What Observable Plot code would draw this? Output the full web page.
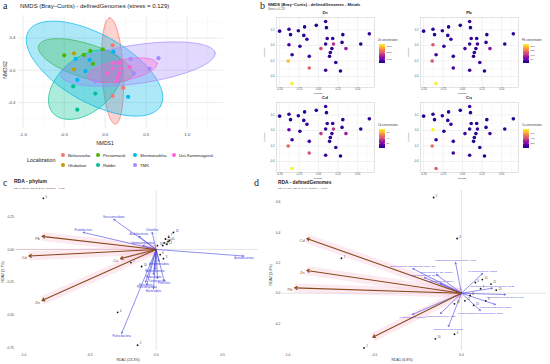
<!DOCTYPE html>
<html><head><meta charset="utf-8">
<script src="https://cdn.jsdelivr.net/npm/d3@7"></script>
<script src="https://cdn.jsdelivr.net/npm/@observablehq/plot@0.6"></script>
<style>
html,body{margin:0;padding:0;background:#fff;}
#root{position:relative;width:550px;height:364px;overflow:hidden;background:#fff;}
#root svg{display:block;overflow:visible;}
.box{position:absolute;}
</style></head><body><div id="root"></div>
<script>
// ================= DATA =================
// Panel a / b : NMDS site scores
const localities = ["Belousovka","Glubokoe","Pervomaisk","Ridder","Shemonaikha","TMK","Ust-Kamenogorsk"];
const localityColors = ["#F8766D","#C49A00","#53B400","#00C094","#00B6EB","#A58AFF","#FB61D7"];
const nmds1 = [-0.50,-0.38,-0.36,-0.26,-0.18,-0.19,-0.15,-0.03,0.09,0.10,-0.38,-0.24,-0.34,-0.39,-0.12,-0.12,-0.34,0.03,0.09,0.11,0.18,0.19,0.17,0.15,0.14,0.22,0.09,0.28,0.31,0.30,0.35,0.54,0.65];
const nmds2 = [0.185,0.21,0.14,0.19,0.24,0.13,0.08,0.26,0.31,0.23,0.01,-0.01,-0.12,-0.20,-0.14,-0.29,-0.49,-0.04,0.02,0.09,0.09,0.02,-0.04,-0.09,-0.14,-0.22,-0.32,-0.33,0.14,0.04,-0.04,0.02,0.15];
const siteLocality = ["Pervomaisk","Glubokoe","Shemonaikha","Pervomaisk","Pervomaisk","Shemonaikha","Pervomaisk","Pervomaisk","Belousovka","Shemonaikha","Glubokoe","Shemonaikha","Shemonaikha","Ridder","TMK","Ridder","Ridder","Ust-Kamenogorsk","Ust-Kamenogorsk","Ust-Kamenogorsk","Ust-Kamenogorsk","Ust-Kamenogorsk","Ust-Kamenogorsk","Ust-Kamenogorsk","Ust-Kamenogorsk","Belousovka","Belousovka","Shemonaikha","TMK","Ust-Kamenogorsk","TMK","TMK","TMK"];
// 95% ellipses (centre, semi-axes, rotation in degrees)
const ellipseLocality = ["Belousovka","Pervomaisk","Ridder","Shemonaikha","TMK","Ust-Kamenogorsk"];
const ellipseCx = [0.09,-0.24,-0.24,-0.13,0.40,0.21];
const ellipseCy = [-0.01,0.12,-0.18,0.02,0.077,0.0];
const ellipseA = [0.66,0.60,0.53,0.93,0.95,0.43];
const ellipseB = [0.13,0.21,0.33,0.42,0.24,0.13];
const ellipseAngle = [93,-18,42,-30,8.4,11.5];

// Panel b : metal concentrations per site
const metals = ["Zn","Pb","Cd","Cu"];
const zn = [520,610,480,560,450,530,600,470,650,540,700,560,620,2840,690,2120,3270,1835,560,640,590,1600,580,520,610,560,640,470,520,600,1400,480,560];
const pb = [14,18,12,20,10,16,22,12,26,15,124,18,24,124,20,28,220,30,18,22,16,28,20,14,18,22,26,12,16,20,70,14,18];
const cd = [6,8,5,7,5,6,9,5,10,6,17,7,9,45,10,41,73,34,8,9,7,34,8,6,7,9,10,5,6,8,27,6,7];
const cu = [40,55,35,60,30,45,70,35,80,45,740,50,65,480,70,90,440,85,45,55,40,75,50,35,45,60,70,30,40,55,95,35,45];
const metalDomains = [[400,3270],[6,220],[3,73],[15,740]];
const metalTicks = [[1000,2000,3000],[50,100,150,200],[20,40,60],[200,400,600]];

// Panel c : RDA phylum
const envNames = ["Pb","Cd","Cu","Zn"];
const cEnvX = [-0.86,-0.96,-0.27,-0.86];
const cEnvY = [0.10,-0.05,-0.07,-0.39];
const phylumNames = ["Actinobacteriota","Verrucomicrobiota","Proteobacteria","Chloroflexi","Acidobacteriota","Gemmatimonadota","Armatimonadota","Bdellovibrionota","Myxococcota","Deinococcota","Nitrospirota","Firmicutes","Planctomycetota","Bacteroidota","Patescibacteria"];
const phylumX = [0.66,-0.32,-0.55,-0.03,-0.13,-0.10,0.02,-0.01,-0.02,0.01,-0.08,0.06,-0.07,-0.02,-0.26];
const phylumY = [-0.05,0.23,0.13,0.13,0.10,0.03,-0.09,-0.15,-0.19,-0.22,-0.25,-0.24,-0.27,-0.30,-0.64];
const cSampleLabel = ["5","4","2","1","10","3","6","13","7","8","9","11","12","14","15","16"];
const cSampleX = [-0.85,-0.29,-0.14,-0.19,-0.11,0.055,0.03,0.13,0.095,0.07,0.09,0.06,0.08,0.05,0.10,0.01];
const cSampleY = [0.39,-0.48,-0.73,-0.10,-0.13,-0.07,-0.04,0.13,0.094,0.08,0.06,0.05,0.04,0.03,0.07,0.03];

// Panel d : RDA definedGenomes
const dEnvX = [-0.96,-0.89,-0.89,-0.51];
const dEnvY = [0.035,0.36,0.15,-0.29];
const dEnvNames = ["Pb","Cd","Zn","Cu"];
const genomeNames = ["Catenulispora acidiphila DSM 44928","Bradyrhizobium diazoefficiens USDA 110","Rhodoplanes sp. Z2-YC6860","Mycobacterium sp. JS623","Bradyrhizobium sp. BTAi1","Nocardioides sp. JS614","Streptosporangium roseum DSM 43021","Conexibacter woesei DSM 14684","Kribbella flavida DSM 17836","Geodermatophilus obscurus DSM 43160","Methanobacterium sp. MB1","Modestobacter marinus","Escherichia virus Lambda"];
const genomeX = [-0.034,-0.28,-0.144,0.121,-0.213,-0.121,0.178,0.253,0.195,0.109,-0.121,-0.282,-0.075];
const genomeY = [0.202,0.162,0.123,0.13,0.103,0.064,0.033,-0.009,-0.074,-0.114,-0.134,-0.14,-0.219];
const dSampleLabel = ["5","4","1","2","10","3","6","7","8","9","11","12","13","14","15","16"];
const dSampleX = [-0.16,-0.025,-0.69,-0.56,-0.15,-0.04,0.08,0.11,0.05,0.14,0.17,0.02,0.07,0.12,0.20,-0.04];
const dSampleY = [0.63,0.36,0.23,-0.36,-0.30,-0.27,0.07,0.03,-0.015,-0.05,0.06,-0.05,-0.08,0.09,0.02,-0.07];

// ================= HELPERS =================
const FONT = '"Liberation Sans", Arial, sans-serif';
const SERIF = '"Liberation Serif", "DejaVu Serif", serif';
const root = document.getElementById("root");
function put(svg, left, top){ const d=document.createElement("div"); d.className="box"; d.style.left=left+"px"; d.style.top=top+"px"; d.appendChild(svg); root.appendChild(d); }
const range = n => d3.range(n);

// ================= PANEL A =================
function ellipsePts(k){
  const pts=[], th=ellipseAngle[k]*Math.PI/180;
  for(let t=0;t<=360;t+=3){ const u=t*Math.PI/180, ex=ellipseA[k]*Math.cos(u), ey=ellipseB[k]*Math.sin(u);
    pts.push({x:ellipseCx[k]+ex*Math.cos(th)-ey*Math.sin(th), y:ellipseCy[k]+ex*Math.sin(th)+ey*Math.cos(th)}); }
  return pts;
}
const colOf = name => localityColors[localities.indexOf(name)];
const aPlot = Plot.plot({
  width:240, height:150, marginLeft:18, marginRight:17, marginTop:15, marginBottom:22,
  x:{domain:[-1.057,1.443]}, y:{domain:[-0.724,0.680]},
  color:{domain:localities, range:localityColors},
  style:{fontFamily:FONT, fontSize:"4.4px", color:"#4d4d4d", background:"transparent"},
  marks:[
    Plot.ruleX([-0.75,-0.25,0.25,0.75,1.25],{stroke:"#f2f2f2",strokeWidth:0.5}),
    Plot.ruleY([-0.6,-0.2,0.2,0.6],{stroke:"#f2f2f2",strokeWidth:0.5}),
    Plot.ruleX([-1,-0.5,0,0.5,1],{stroke:"#e6e6e6",strokeWidth:0.8}),
    Plot.ruleY([-0.4,0,0.4],{stroke:"#e6e6e6",strokeWidth:0.8}),
    ...range(ellipseLocality.length).map(k=>Plot.line(ellipsePts(k),{x:"x",y:"y",curve:"linear-closed",fill:colOf(ellipseLocality[k]),fillOpacity:0.32,stroke:colOf(ellipseLocality[k]),strokeWidth:0.7})),
    Plot.dot(range(nmds1.length),{x:i=>nmds1[i],y:i=>nmds2[i],fill:i=>siteLocality[i],r:2.1}),
    Plot.axisX({ticks:[-1,-0.5,0,0.5,1],tickFormat:d=>d.toFixed(1),tickSize:0,tickPadding:4,label:null}),
    Plot.axisY({ticks:[-0.4,0,0.4],tickFormat:d=>d.toFixed(1),tickSize:0,tickPadding:3,label:null})
  ]
});
put(aPlot,0,0);

// ================= PANEL B =================
const metalVals = [zn,pb,cd,cu];
const facetPos = [[262,8],[406,8],[262,93],[406,93]];
metalVals.forEach((vals,m)=>{
  const order = range(vals.length).sort((a,b)=>vals[a]-vals[b]);
  const p = Plot.plot({
    width:116, height:88, marginLeft:14, marginRight:4, marginTop:9, marginBottom:9,
    x:{domain:[-0.54,0.716]}, y:{domain:[-0.542,0.361]},
    color:{type:"linear", scheme:"plasma", domain:metalDomains[m]},
    style:{fontFamily:FONT, fontSize:"2.7px", color:"#4d4d4d", background:"transparent"},
    marks:[
      Plot.ruleX([-0.375,-0.125,0.125,0.375,0.625],{stroke:"#f3f3f3",strokeWidth:0.4}),
      Plot.ruleY([-0.5,-0.3,-0.1,0.1,0.3],{stroke:"#f3f3f3",strokeWidth:0.4}),
      Plot.ruleX([-0.5,-0.25,0,0.25,0.5],{stroke:"#e8e8e8",strokeWidth:0.6}),
      Plot.ruleY([-0.4,-0.2,0,0.2],{stroke:"#e8e8e8",strokeWidth:0.6}),
      Plot.frame({stroke:"#d0d0d0",strokeWidth:0.6}),
      Plot.dot(order,{x:i=>nmds1[i],y:i=>nmds2[i],fill:i=>vals[i],r:1.8}),
      Plot.axisX({ticks:[-0.5,-0.25,0,0.25,0.5],tickFormat:d=>d.toFixed(2),tickSize:0,tickPadding:1,label:null}),
      Plot.axisY({ticks:[-0.4,-0.2,0,0.2],tickFormat:d=>d.toFixed(1),tickSize:0,tickPadding:2,label:null})
    ]
  });
  put(p,facetPos[m][0],facetPos[m][1]);
});

// ================= PANELS C, D =================
const blue="#4343e0", brown="#8b4a1c", pink="#f7b9d0";
function rdaMarks(envX,envY,envLab,spX,spY,spLab,smX,smY,smLab,fs){
  const e=range(envX.length), s=range(spX.length), q=range(smX.length);
  return [
    Plot.ruleX([0],{stroke:"#d2d2d2",strokeWidth:0.6}),
    Plot.ruleY([0],{stroke:"#d2d2d2",strokeWidth:0.6}),
    Plot.link(e,{x1:()=>0,y1:()=>0,x2:i=>envX[i],y2:i=>envY[i],stroke:pink,strokeWidth:9,strokeOpacity:0.3,strokeLinecap:"butt"}),
    Plot.arrow(s,{x1:()=>0,y1:()=>0,x2:i=>spX[i],y2:i=>spY[i],stroke:blue,strokeWidth:0.7,strokeOpacity:0.85,headLength:3}),
    Plot.arrow(e,{x1:()=>0,y1:()=>0,x2:i=>envX[i],y2:i=>envY[i],stroke:brown,strokeWidth:1.1,headLength:4}),
    Plot.text(s.filter(i=>spY[i]>=0),{x:i=>spX[i],y:i=>spY[i],text:i=>spLab[i],fill:blue,fontSize:fs,dy:-2.5}),
    Plot.text(s.filter(i=>spY[i]<0),{x:i=>spX[i],y:i=>spY[i],text:i=>spLab[i],fill:blue,fontSize:fs,dy:2.5}),
    Plot.text(e.filter(i=>envLab[i]!=null),{x:i=>envX[i],y:i=>envY[i],text:i=>envLab[i],fill:brown,fontSize:4,textAnchor:"end",dx:-2,dy:2}),
    Plot.dot(q,{x:i=>smX[i],y:i=>smY[i],r:0.9,fill:"#111"}),
    Plot.text(q,{x:i=>smX[i],y:i=>smY[i],text:i=>smLab[i],fill:"#333",fontSize:2.6,dx:2.2,dy:-1.5,textAnchor:"start"})
  ];
}
const cPlot = Plot.plot({
  width:262, height:176, marginLeft:15, marginRight:4, marginTop:2, marginBottom:14,
  x:{domain:[-1.06,0.771]}, y:{domain:[-0.771,0.45]},
  style:{fontFamily:FONT, fontSize:"3.4px", color:"#4d4d4d", background:"transparent"},
  marks:[
    Plot.link([0],{x1:()=>-1.06,x2:()=>0,y1:()=>0,y2:()=>0,stroke:"#f08cb0",strokeWidth:0.6}),
    ...rdaMarks(cEnvX,cEnvY,envNames,phylumX,phylumY,phylumNames,cSampleX,cSampleY,cSampleLabel,2.7),
    Plot.axisX({ticks:[-1,-0.5,0,0.5],tickFormat:d=>d.toFixed(1),tickSize:0,tickPadding:3,label:null}),
    Plot.axisY({ticks:[-0.75,-0.5,-0.25,0,0.25],tickFormat:d=>d.toFixed(2),tickSize:0,tickPadding:1.5,label:null})
  ]
});
put(cPlot,0,188);

const dPlot = Plot.plot({
  width:288, height:176, marginLeft:20, marginRight:4, marginTop:2, marginBottom:14,
  x:{domain:[-1.029,0.489]}, y:{domain:[-0.377,0.676]},
  style:{fontFamily:FONT, fontSize:"3.4px", color:"#4d4d4d", background:"transparent"},
  marks:[
    ...rdaMarks(dEnvX,dEnvY,["Pb","Cd","Zn",null],genomeX,genomeY,genomeNames,dSampleX,dSampleY,dSampleLabel,2.5),
    Plot.axisX({ticks:[-1,-0.5,0],tickFormat:d=>d.toFixed(1),tickSize:0,tickPadding:3,label:null}),
    Plot.axisY({ticks:[-0.2,0,0.2,0.4,0.6],tickFormat:d=>d.toFixed(1),tickSize:0,tickPadding:2,label:null})
  ]
});
put(dPlot,262,188);

// ================= TEXT / LEGENDS OVERLAY =================
const ov = d3.select(root).append("svg").attr("width",550).attr("height",364)
  .style("position","absolute").style("left","0px").style("top","0px").style("pointer-events","none");
function T(s,x,y,o={}){
  const t=ov.append("text").attr("x",x).attr("y",y).text(s)
    .attr("font-family",o.family||FONT).attr("font-size",o.size||4)
    .attr("fill",o.fill||"#1a1a1a").attr("text-anchor",o.anchor||"start");
  if(o.weight) t.attr("font-weight",o.weight);
  if(o.rotate) t.attr("transform",`rotate(-90 ${x} ${y})`);
  return t;
}
T("a",3,9,{family:SERIF,size:10});
T("b",260,9,{family:SERIF,size:10});
T("c",3,186,{family:SERIF,size:10});
T("d",254,186,{family:SERIF,size:10});
// panel a
T("NMDS (Bray\u2013Curtis) - definedGenomes  (stress = 0.129)",20,8.2,{size:6});
T("NMDS1",105,145,{size:5,anchor:"middle"});
T("NMDS2",7,70,{size:5,anchor:"middle",rotate:true});
T("Localization",27,162,{size:5.4});
const legRows=[["Belousovka","Pervomaisk","Shemonaikha","Ust-Kamenogorsk"],["Glubokoe","Ridder","TMK"]];
const legX=[63,98,135,174];
legRows.forEach((row,r)=>row.forEach((name,c)=>{
  const y=155+r*10;
  ov.append("circle").attr("cx",legX[c]).attr("cy",y).attr("r",2).attr("fill",colOf(name));
  T(name,legX[c]+5,y+1.5,{size:4.3});
}));
// panel b
T("NMDS (Bray\u2013Curtis) - definedGenomes - Metals",268,5.5,{size:4.1,weight:"bold"});
T("Stress = 0.129",268,10,{size:2.6,fill:"#555"});
const defs=ov.append("defs");
const grad=defs.append("linearGradient").attr("id","plasmaGrad").attr("x1",0).attr("y1",1).attr("x2",0).attr("y2",0);
d3.range(0,1.0001,0.1).forEach(t=>grad.append("stop").attr("offset",t).attr("stop-color",d3.interpolatePlasma(t)));
metals.forEach((mt,m)=>{
  const [L,Tp]=facetPos[m];
  const fx=L+14, fy=Tp+9;
  T(mt,fx+49,fy-3,{size:4.4,weight:"bold",anchor:"middle"});
  T("NMDS1",fx+42,fy+77.3,{size:2.4,anchor:"middle",fill:"#333"});
  T("NMDS2",fx-11.5,fy+35,{size:2.5,anchor:"middle",rotate:true,fill:"#333"});
  const bx=fx+103, by=fy+27, bh=19;
  T(mt+" concentration",bx-1,by-3,{size:2.6,fill:"#333"});
  ov.append("rect").attr("x",bx).attr("y",by).attr("width",6).attr("height",bh).attr("fill","url(#plasmaGrad)");
  const [lo,hi]=metalDomains[m];
  metalTicks[m].forEach(v=>{
    const yy=by+bh-(v-lo)/(hi-lo)*bh;
    ov.append("line").attr("x1",bx).attr("x2",bx+1.3).attr("y1",yy).attr("y2",yy).attr("stroke","#fff").attr("stroke-width",0.4);
    ov.append("line").attr("x1",bx+4.7).attr("x2",bx+6).attr("y1",yy).attr("y2",yy).attr("stroke","#fff").attr("stroke-width",0.4);
    T(String(v),bx+7.5,yy+0.9,{size:2.5,fill:"#444"});
  });
});
// panel c
T("RDA - phylum",14,183,{size:5,weight:"bold"});
T("RDA1: 23.3%, RDA2: 2.7%  |  Global p = 0.030",14,189,{size:2.5,fill:"#444"});
T("RDA1 (23.3%)",128,361,{size:3.6,anchor:"middle",fill:"#333"});
T("RDA2 (2.7%)",4,272,{size:3.6,anchor:"middle",rotate:true,fill:"#333"});
// panel d
T("RDA - definedGenomes",278,184.3,{size:4.8,weight:"bold"});
T("RDA1: 6.8%, RDA2: 3.9%  |  Global p = 0.001",278,189.3,{size:2.5,fill:"#444"});
T("RDA1 (6.8%)",402,361,{size:3.6,anchor:"middle",fill:"#333"});
T("RDA2 (3.9%)",272,275,{size:3.6,anchor:"middle",rotate:true,fill:"#333"});
</script></body></html>
